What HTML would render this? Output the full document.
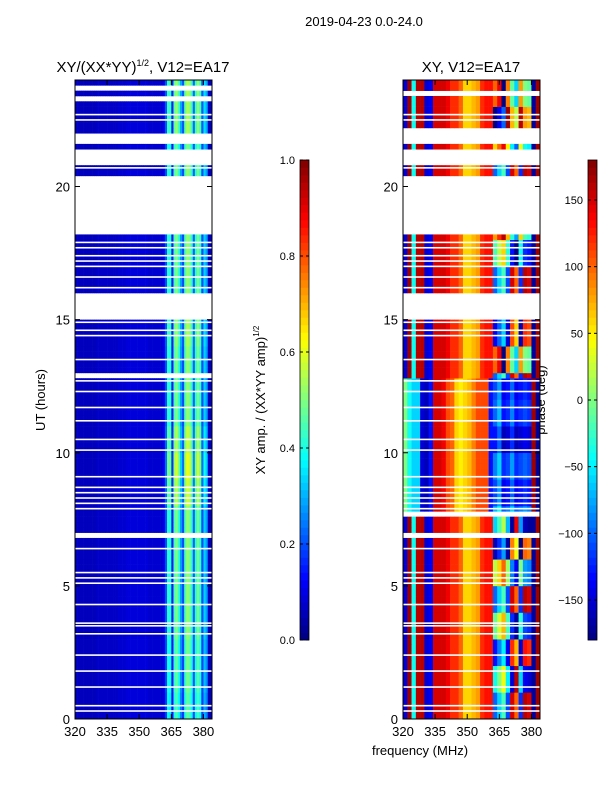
<!DOCTYPE html>
<html><head><meta charset="utf-8"><style>
body{margin:0;background:#fff;}
svg text{font-family:"Liberation Sans","DejaVu Sans",sans-serif;fill:#000;}
</style></head><body>
<svg id="fig" width="600" height="800" viewBox="0 0 600 800" xmlns="http://www.w3.org/2000/svg">
<text x="364" y="26" font-size="13" text-anchor="middle">2019-04-23 0.0-24.0</text>
<text x="143" y="72" font-size="15" text-anchor="middle">XY/(XX*YY)<tspan font-size="9" dy="-6">1/2</tspan><tspan dy="6">, V12=EA17</tspan></text>
<text x="471" y="72" font-size="15" text-anchor="middle">XY, V12=EA17</text>
<text transform="translate(45,400) rotate(-90)" font-size="13" text-anchor="middle">UT (hours)</text>
<text x="420" y="755" font-size="13" text-anchor="middle">frequency (MHz)</text>
<text transform="translate(265,400) rotate(-90)" font-size="13" text-anchor="middle">XY amp. / (XX*YY amp)<tspan font-size="8" dy="-6">1/2</tspan></text>
<text transform="translate(545,400) rotate(-90)" font-size="13" text-anchor="middle">phase (deg)</text>
<g id="left"></g>
<g id="right"></g>
<g id="cb1"></g>
<g id="cb2"></g>
<g id="axes"></g>
</svg>
<script>
// ---- data ----
const yTicks=[0,5,10,15,20];
const xTicks=[320,335,350,365,380];
const ampTicks=[0.0,0.2,0.4,0.6,0.8,1.0];
const phaseTicks=[-150,-100,-50,0,50,100,150];
// amplitude profile, 1 MHz channels 320..383
const ampProfile=[0.06,0.06,0.06,0.06,0.06,0.06,0.06,0.06,0.06,0.06,0.07,0.07,0.07,0.07,0.07,0.07,0.07,0.07,0.07,0.07,0.08,0.08,0.08,0.08,0.09,0.09,0.09,0.09,0.09,0.09,0.09,0.09,0.09,0.09,0.08,0.08,0.08,0.08,0.08,0.08,0.08,0.1,0.2,0.42,0.4,0.15,0.45,0.5,0.42,0.28,0.2,0.45,0.52,0.5,0.42,0.22,0.42,0.5,0.42,0.2,0.33,0.28,0.06,0.06];
// amplitude factor per hour 0..23
const ampHour=[0.9,0.95,0.95,1,1,1,1,1,1.12,1.18,1.1,1.0,1,1,1.05,1,1,1,1,1,1,0.95,1.05,1.05];
// phase profiles (deg), 2 MHz channels 320..382
const phaseNight=[-150,170,-40,160,160,-150,-140,150,150,150,140,120,120,100,60,60,70,80,120,130,130,-100,-60,-20,-110,150,100,-120,160,150,-170,170];
const phaseDay=[0,-40,-60,-60,-150,-160,-130,150,150,140,110,100,60,50,60,70,90,110,110,110,-130,-110,-80,-140,-130,-100,-140,-130,-120,-130,170,-170];
// row-wise phase offset per hour 0..23 for the upper band (362-380 MHz)
const phaseHourShift=[0,60,-30,90,0,120,-60,40,0,20,-20,10,0,200,-40,0,0,80,180,0,0,160,-80,200];
// white gaps (hours)
const gapsLeft=[[6.8,7.05],[7.55,7.7],[12.9,13.1],[13.95,14.05],[15.0,16.0],[18.3,20.45],[20.85,21.4],[21.6,22.0],[23.3,23.5],[23.7,23.9]];
const gapsRight=[[6.75,7.0],[7.6,7.75],[12.95,13.05],[13.95,14.05],[15.0,16.0],[18.3,20.4],[20.85,21.35],[21.6,22.0],[22.1,22.2],[23.5,23.6]];
const thinLines=[0.3,0.5,1.2,1.8,2.4,3.2,3.5,3.6,4.3,5.1,5.3,5.5,6.4,7.9,8.1,8.3,8.5,8.7,9.1,10.1,10.5,11.2,11.7,12.3,12.7,13.5,14.4,14.6,14.9,16.2,16.6,17.0,17.2,17.4,17.7,17.9,20.7,22.5,22.7];

// ---- scales ----
const T0=80,T1=719;
const yS=h=>T1-(h/24)*(T1-T0);
const xL=f=>75+(f-320)*(137/64);
const xR=f=>403+(f-320)*(137/64);
const NS='http://www.w3.org/2000/svg';
function mk(tag,attrs,parent){const e=document.createElementNS(NS,tag);for(const k in attrs)e.setAttribute(k,attrs[k]);parent.appendChild(e);return e;}
function jet(v){v=Math.max(0,Math.min(1,v));
 const r=Math.max(0,Math.min(1,Math.min(4*v-1.5,-4*v+4.5)));
 const g=Math.max(0,Math.min(1,Math.min(4*v-0.5,-4*v+3.5)));
 const b=Math.max(0,Math.min(1,Math.min(4*v+0.5,-4*v+2.5)));
 return `rgb(${Math.round(r*255)},${Math.round(g*255)},${Math.round(b*255)})`;}
function inGap(h,g){return g.some(p=>h>=p[0]&&h<p[1]);}

const RH=0.2;
const L=document.getElementById('left'),R=document.getElementById('right');
for(let r=0;r<120;r++){
 const h0=r*RH, hour=Math.floor(h0);
 const y1=yS(h0+RH),y0=yS(h0);
 if(!inGap(h0+0.1,gapsLeft)){
  for(let c=0;c<ampProfile.length;c++){
   const v=ampProfile[c]*(c>40?ampHour[hour]:1);
   const e=mk('rect',{x:xL(320+c),y:y1,width:xL(321+c)-xL(320+c)+0.3,height:y0-y1+0.3,fill:jet(v)},L);
   
   
  }
 }
 if(!inGap(h0+0.1,gapsRight)){
  const prof=(h0>=7.7&&h0<12.8)?phaseDay:phaseNight;
  for(let c=0;c<prof.length;c++){
   let p=prof[c];
   if(c>=21&&c<=29){p=p+phaseHourShift[hour];p=((p+180)%360+360)%360-180;}
   const e=mk('rect',{x:xR(320+2*c),y:y1,width:xR(322+2*c)-xR(320+2*c)+0.3,height:y0-y1+0.3,fill:jet((p+180)/360)},R);
   
   
  }
 }
}
thinLines.forEach(h=>{
 const a=mk('rect',{x:75,y:yS(h)-0.8,width:137,height:1.6,fill:'#fff'},L);
 
 
 const b=mk('rect',{x:403,y:yS(h)-0.8,width:137,height:1.6,fill:'#fff'},R);
 
 
});

// ---- axes ----
const A=document.getElementById('axes');
[[75,xL],[403,xR]].forEach(([x0,xs],pi)=>{
 const f=mk('rect',{x:x0,y:T0,width:137,height:T1-T0,fill:'none',stroke:'#000','stroke-width':1},A);
 
 
 yTicks.forEach(t=>{
  const y=yS(t);
  mk('line',{x1:x0,x2:x0+5,y1:y,y2:y,stroke:'#000'},A);
  mk('line',{x1:x0+137,x2:x0+132,y1:y,y2:y,stroke:'#000'},A);
  const tx=mk('text',{x:x0-5,y:y+5,'font-size':13,'text-anchor':'end'},A);tx.textContent=t;
  
  
 });
 xTicks.forEach(t=>{
  const x=xs(t);
  mk('line',{x1:x,x2:x,y1:T1,y2:T1-5,stroke:'#000'},A);
  mk('line',{x1:x,x2:x,y1:T0,y2:T0+5,stroke:'#000'},A);
  const tx=mk('text',{x:x,y:T1+17,'font-size':13,'text-anchor':'middle'},A);tx.textContent=t;
  
  
 });
});

// ---- colorbars ----
function colorbar(gid,x,vmin,vmax,ticks,fmt){
 const G=document.getElementById(gid);
 const top=160,bot=640,n=64;
 for(let i=0;i<n;i++){
  const e=mk('rect',{x:x,y:bot-(i+1)*(bot-top)/n,width:9,height:(bot-top)/n+0.3,fill:jet((i+0.5)/n)},G);
  
  
 }
 mk('rect',{x:x,y:top,width:9,height:bot-top,fill:'none',stroke:'#000','stroke-width':0.8},G);
 ticks.forEach(t=>{
  const y=bot-(t-vmin)/(vmax-vmin)*(bot-top);
  mk('line',{x1:x,x2:x+3,y1:y,y2:y,stroke:'#000'},G);
  mk('line',{x1:x+9,x2:x+6,y1:y,y2:y,stroke:'#000'},G);
  const tx=mk('text',{x:x-5,y:y+4,'font-size':11,'text-anchor':'end'},G);tx.textContent=fmt(t);
  
  
 });
}
colorbar('cb1',300,0,1,ampTicks,t=>t.toFixed(1));
colorbar('cb2',588,-180,180,phaseTicks,t=>t<0?'\u2212'+(-t):String(t));
</script>
</body></html>
